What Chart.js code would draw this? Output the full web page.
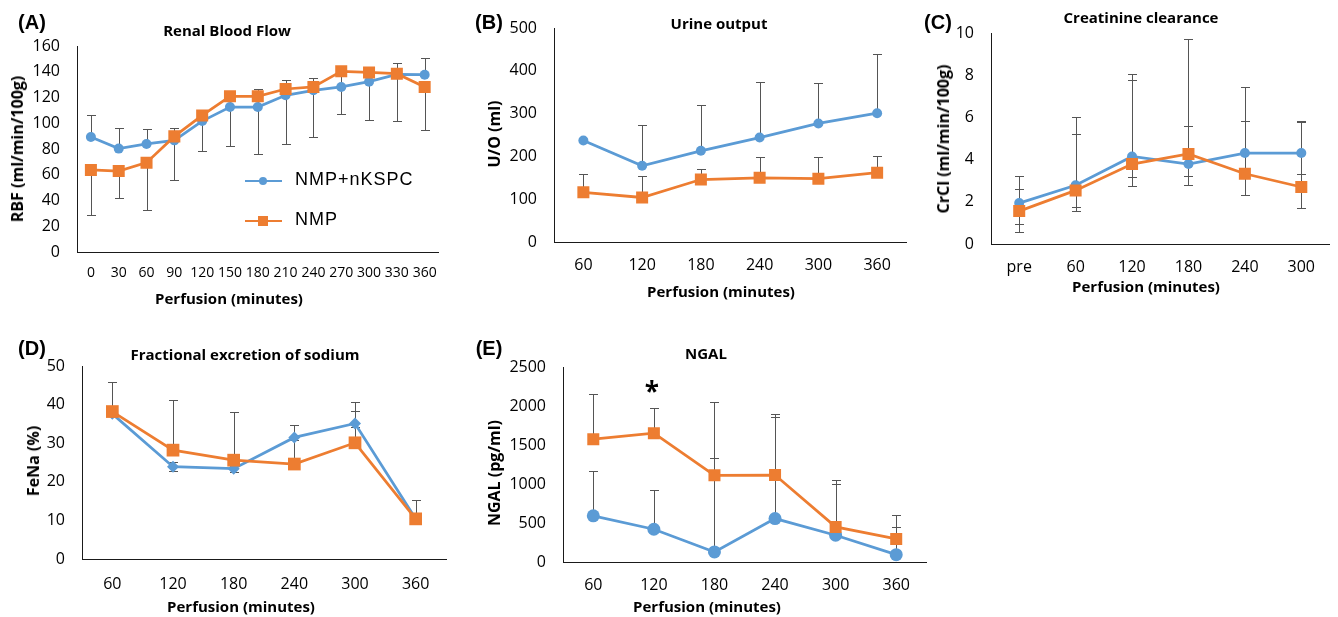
<!DOCTYPE html>
<html>
<head>
<meta charset="utf-8">
<script src="https://cdn.jsdelivr.net/npm/chart.js@4.4.1/dist/chart.umd.min.js"></script>
<style>
  body { margin: 0; background: #fff; width: 1338px; height: 617px; position: relative; overflow: hidden; }
  canvas { position: absolute; }
  .t { position: absolute; transform: translate(-50%, -50%); white-space: nowrap; color: #000; line-height: 1; }
  .title { font: bold 15px "Open Sans", sans-serif; }
  .axt { font: bold 15px "Open Sans", sans-serif; }
  .yt { font-size: 16px; transform: translate(-50%, -50%) rotate(-90deg); }
  .panel { font: bold 20px "Liberation Sans", Arial, sans-serif; }
  .leg { position: absolute; font: 18px "Liberation Sans", Arial, sans-serif; letter-spacing: 1px; color: #000; transform: translateY(-50%); line-height: 1; }
  .legline { position: absolute; height: 2px; width: 37px; }
  .legmark { position: absolute; transform: translate(-50%, -50%); }
</style>
</head>
<body>
<canvas id="chartA"></canvas>
<canvas id="chartB"></canvas>
<canvas id="chartC"></canvas>
<canvas id="chartD"></canvas>
<canvas id="chartE"></canvas>

<!-- panel letters and titles -->
<div class="t panel" style="left:32px;top:22px">(A)</div>
<div class="t panel" style="left:489px;top:22px">(B)</div>
<div class="t panel" style="left:938px;top:22px">(C)</div>
<div class="t panel" style="left:32px;top:348px">(D)</div>
<div class="t panel" style="left:489px;top:348px">(E)</div>

<div class="t title" style="left:227px;top:30px">Renal Blood Flow</div>
<div class="t title" style="left:719px;top:23px">Urine output</div>
<div class="t title" style="left:1141px;top:17px">Creatinine clearance</div>
<div class="t title" style="left:245px;top:354px">Fractional excretion of sodium</div>
<div class="t title" style="left:706px;top:353px">NGAL</div>

<div class="t axt" style="left:229px;top:298px">Perfusion (minutes)</div>
<div class="t axt" style="left:721px;top:291px">Perfusion (minutes)</div>
<div class="t axt" style="left:1146px;top:286px">Perfusion (minutes)</div>
<div class="t axt" style="left:241px;top:606px">Perfusion (minutes)</div>
<div class="t axt" style="left:707px;top:606px">Perfusion (minutes)</div>

<div class="t axt yt" style="left:17px;top:149px">RBF (ml/min/100g)</div>
<div class="t axt yt" style="left:494px;top:134px">U/O (ml)</div>
<div class="t axt yt" style="left:943px;top:139px">CrCl (ml/min/100g)</div>
<div class="t axt yt" style="left:33px;top:461px">FeNa (%)</div>
<div class="t axt yt" style="left:494px;top:473px">NGAL (pg/ml)</div>

<!-- legend of panel A -->
<div class="legline" style="left:245px;top:180px;background:#5B9BD5"></div>
<div class="legmark" style="left:263px;top:181px;width:8px;height:8px;border-radius:50%;background:#5B9BD5"></div>
<div class="leg" style="left:295px;top:179px">NMP+nKSPC</div>
<div class="legline" style="left:245px;top:220px;background:#ED7D31"></div>
<div class="legmark" style="left:263px;top:221px;width:10px;height:10px;background:#ED7D31"></div>
<div class="leg" style="left:295px;top:219px">NMP</div>

<script>
// Colours
const BLUE = "#5B9BD5";
const ORANGE = "#ED7D31";

// (A) Renal blood flow
const rbfLabels = ["0", "30", "60", "90", "120", "150", "180", "210", "240", "270", "300", "330", "360"];
const rbfKspc = [89.3, 80.3, 83.9, 86.7, 101.7, 112.6, 112.6, 121.7, 125.6, 128.2, 132.3, 138, 137.7];
const rbfKspcSdUp = [17.4, 16.3, 11.9, 9.3, 0, 0, 14, 12.1, 9.3, 0, 0, 9, 13];
const rbfNmp = [63.7, 62.9, 69.4, 89.8, 106.1, 120.9, 120.9, 126.6, 128.2, 140.3, 139.5, 138.5, 128.2];
const rbfNmpSdDown = [34.7, 20.7, 36.5, 34.1, 27.9, 38.6, 44.5, 42.5, 39.2, 33.1, 36.7, 36.8, 33.2];

// (B) Urine output
const uoLabels = ["60", "120", "180", "240", "300", "360"];
const uoKspc = [237, 178, 213, 244, 277, 301];
const uoKspcSd = [0, 95, 106, 131, 94, 139];
const uoNmp = [116, 104, 146, 150, 148, 162];
const uoNmpSd = [42, 50, 24, 49, 51, 39];

// (C) Creatinine clearance
const crclLabels = ["pre", "60", "120", "180", "240", "300"];
const crclKspc = [1.94, 2.78, 4.15, 3.79, 4.31, 4.31];
const crclKspcSdUp = [1.28, 3.25, 3.92, 1.82, 1.52, 1.54];
const crclKspcSdDown = [0.98, 1.03, 0.99, 0.55, 0.9, 0.99];
const crclNmp = [1.56, 2.54, 3.79, 4.27, 3.33, 2.70];
const crclNmpSdUp = [1.05, 2.69, 4.0, 5.43, 4.11, 3.09];
const crclNmpSdDown = [1.01, 0.98, 1.03, 1.49, 1.01, 0.99];

// (D) Fractional excretion of sodium
const fenaLabels = ["60", "120", "180", "240", "300", "360"];
const fenaKspc = [37.6, 23.9, 23.4, 31.5, 35.1, 10.4];
const fenaKspcSdUp = [0, 1.3, 0.8, 3.2, 5.5, 0];
const fenaKspcSdDown = [0, 1.0, 0.8, 0.8, 1.0, 0];
const fenaNmp = [38.2, 28.2, 25.6, 24.6, 30.1, 10.4];
const fenaNmpSdUp = [7.6, 13, 12.4, 10.1, 8.2, 4.9];

// (E) NGAL
const ngalLabels = ["60", "120", "180", "240", "300", "360"];
const ngalKspc = [592, 420, 129, 557, 343, 94];
const ngalKspcSd = [579, 502, 1200, 1300, 656, 356];
const ngalNmp = [1574, 1651, 1111, 1115, 450, 296];
const ngalNmpSd = [574, 317, 939, 780, 596, 304];
const ngalSig = ["", "*", "", "", "", ""];

// error bars, drawn under the markers
const errorBars = {
  id: "errorBars",
  beforeDatasetsDraw(chart) {
    const ctx = chart.ctx;
    const y = chart.scales.y;
    ctx.save();
    ctx.strokeStyle = "#555555";
    ctx.lineWidth = 1;
    chart.data.datasets.forEach((ds, i) => {
      const meta = chart.getDatasetMeta(i);
      meta.data.forEach((pt, j) => {
        const v = ds.data[j];
        const x = Math.round(pt.x) + 0.5;
        [[ds.errUp, 1], [ds.errDown, -1]].forEach(([arr, sign]) => {
          if (!arr || !arr[j]) return;
          const y0 = y.getPixelForValue(v);
          const y1 = Math.round(y.getPixelForValue(v + sign * arr[j])) + 0.5;
          ctx.beginPath();
          ctx.moveTo(x, y0);
          ctx.lineTo(x, y1);
          ctx.moveTo(x - 4.5, y1);
          ctx.lineTo(x + 4.5, y1);
          ctx.stroke();
        });
      });
    });
    ctx.restore();
  }
};

// significance marks above the upper error bar
const sigMarks = {
  id: "sigMarks",
  afterDatasetsDraw(chart) {
    chart.data.datasets.forEach((ds, i) => {
      if (!ds.marks) return;
      const meta = chart.getDatasetMeta(i);
      const ctx = chart.ctx;
      ctx.save();
      ctx.fillStyle = "#000";
      ctx.font = "bold 26px 'Open Sans'";
      ctx.textAlign = "center";
      ctx.textBaseline = "alphabetic";
      ds.marks.forEach((m, j) => {
        if (!m) return;
        const top = ds.data[j] + (ds.errUp ? ds.errUp[j] : 0);
        ctx.fillText(m, meta.data[j].x - 2, chart.scales.y.getPixelForValue(top) - 7);
      });
      ctx.restore();
    });
  }
};

function line(label, data, color, style, radius, extra) {
  return Object.assign({
    label: label,
    data: data,
    borderColor: color,
    backgroundColor: color,
    pointBackgroundColor: color,
    pointBorderWidth: 0,
    pointStyle: style,
    pointRadius: radius,
    borderWidth: 2.75,
    tension: 0
  }, extra);
}

function makePanel(id, box, area, labels, datasets, yMin, yMax, yStep, xPad, xFontSize) {
  const canvas = document.getElementById(id);
  canvas.width = box.w;
  canvas.height = box.h;
  canvas.style.left = box.x + "px";
  canvas.style.top = box.y + "px";
  canvas.style.width = box.w + "px";
  canvas.style.height = box.h + "px";

  const axisBorder = { display: true, color: "#1a1a1a", width: 1 };

  return new Chart(canvas.getContext("2d"), {
    type: "line",
    data: { labels: labels, datasets: datasets },
    options: {
      responsive: false,
      animation: false,
      devicePixelRatio: 1,
      layout: {
        padding: {
          left: 2,
          top: area.top - box.y,
          right: box.x + box.w - area.right,
          bottom: box.y + box.h - area.bottom - 40
        }
      },
      plugins: { legend: { display: false }, tooltip: { enabled: false }, title: { display: false } },
      scales: {
        x: {
          type: "category",
          offset: true,
          grid: { display: false, drawTicks: false },
          border: axisBorder,
          ticks: { color: "#000", font: { family: "'Open Sans'", size: xFontSize }, padding: xPad, autoSkip: false, maxRotation: 0, minRotation: 0 },
          afterFit: s => { s.height = 40; }
        },
        y: {
          min: yMin,
          max: yMax,
          grid: { display: false, drawTicks: false },
          border: axisBorder,
          ticks: { color: "#000", font: { family: "'Open Sans'", size: 16 }, padding: 17, stepSize: yStep, format: { useGrouping: false } },
          afterFit: s => { s.width = area.left - box.x - 2; }
        }
      }
    },
    plugins: [errorBars, sigMarks]
  });
}

makePanel("chartA", { x: 0, y: 0, w: 450, h: 312 }, { left: 77, top: 46, right: 443, bottom: 252 }, rbfLabels, [
  line("NMP", rbfNmp, ORANGE, "rect", 8.5, { order: 0, errDown: rbfNmpSdDown }),
  line("NMP+nKSPC", rbfKspc, BLUE, "circle", 5, { order: 1, errUp: rbfKspcSdUp })
], 0, 160, 20, 13, 14);

makePanel("chartB", { x: 455, y: 0, w: 460, h: 312 }, { left: 554, top: 28, right: 908, bottom: 242 }, uoLabels, [
  line("NMP", uoNmp, ORANGE, "rect", 8.5, { order: 0, errUp: uoNmpSd }),
  line("NMP+nKSPC", uoKspc, BLUE, "circle", 5, { order: 1, errUp: uoKspcSd })
], 0, 500, 100, 14, 16);

makePanel("chartC", { x: 915, y: 0, w: 423, h: 312 }, { left: 991, top: 33, right: 1336, bottom: 244 }, crclLabels, [
  line("NMP", crclNmp, ORANGE, "rect", 8.5, { order: 0, errUp: crclNmpSdUp, errDown: crclNmpSdDown }),
  line("NMP+nKSPC", crclKspc, BLUE, "circle", 5, { order: 1, errUp: crclKspcSdUp, errDown: crclKspcSdDown })
], 0, 10, 2, 14, 16);

makePanel("chartD", { x: 0, y: 330, w: 455, h: 287 }, { left: 82, top: 366, right: 448, bottom: 559 }, fenaLabels, [
  line("NMP", fenaNmp, ORANGE, "rect", 9, { order: 0, errUp: fenaNmpSdUp }),
  line("NMP+nKSPC", fenaKspc, BLUE, "rectRot", 6, { order: 1, errUp: fenaKspcSdUp, errDown: fenaKspcSdDown })
], 0, 50, 10, 16, 16);

makePanel("chartE", { x: 455, y: 330, w: 480, h: 287 }, { left: 563, top: 367, right: 929, bottom: 562 }, ngalLabels, [
  line("NMP", ngalNmp, ORANGE, "rect", 8.5, { order: 0, errUp: ngalNmpSd, marks: ngalSig }),
  line("NMP+nKSPC", ngalKspc, BLUE, "circle", 6.5, { order: 1, errUp: ngalKspcSd })
], 0, 2500, 500, 14, 16);
</script>
</body>
</html>
